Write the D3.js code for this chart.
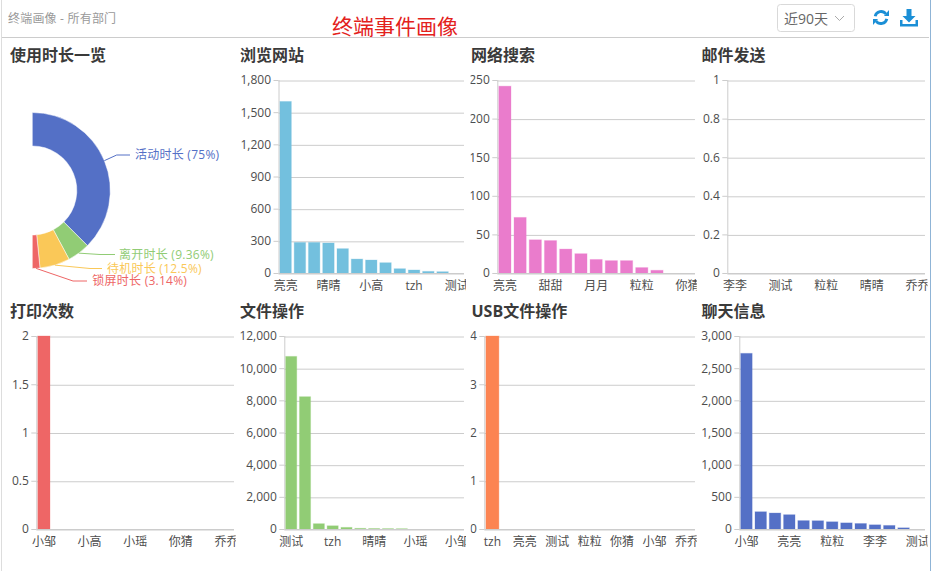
<!DOCTYPE html>
<html>
<head>
<meta charset="utf-8">
<style>
html,body{margin:0;padding:0;background:#fff;overflow:hidden}
svg{display:block}
text{font-family:"Open Sans","Noto Sans CJK SC",sans-serif}
</style>
<script src="https://cdn.jsdelivr.net/npm/d3@7/dist/d3.min.js"></script>
</head>
<body>
<svg id="c" width="932" height="571"></svg>
<script>
// ---- data ----
const pieNames  = ["活动时长","离开时长","待机时长","锁屏时长"];
const pieShares = [75,9.36,12.5,3.14];

const browseNames  = ["亮亮","小邹","甜甜","晴晴","月月","李李","小高","粒粒","小瑶","tzh","你猜","乔乔","测试"];
const browseValues = [1600,285,285,280,227,130,121,96,40,28,15,12,0];
const browseTicks  = [0,300,600,900,1200,1500,1800];

const searchNames  = ["亮亮","小邹","晴晴","甜甜","小高","李李","月月","测试","tzh","粒粒","小瑶","乔乔","你猜"];
const searchValues = [242,72,43,42,31,25,17.5,16,16,7,3.5,0,0];
const searchTicks  = [0,50,100,150,200,250];

const mailNames  = ["李李","亮亮","小邹","测试","甜甜","小高","粒粒","月月","tzh","晴晴","你猜","小瑶","乔乔"];
const mailValues = [0,0,0,0,0,0,0,0,0,0,0,0,0];
const mailTicks  = [0,0.2,0.4,0.6,0.8,1];

const printNames  = ["小邹","亮亮","测试","小高","晴晴","甜甜","小瑶","月月","tzh","你猜","粒粒","李李","乔乔"];
const printValues = [2,0,0,0,0,0,0,0,0,0,0,0,0];
const printTicks  = [0,0.5,1,1.5,2];

const fileNames  = ["测试","亮亮","甜甜","tzh","粒粒","李李","晴晴","月月","小高","小瑶","你猜","乔乔","小邹"];
const fileValues = [10730,8225,330,200,100,40,30,25,20,0,0,0,0];
const fileTicks  = [0,2000,4000,6000,8000,10000,12000];

const usbNames  = ["tzh","晴晴","亮亮","甜甜","测试","月月","粒粒","小高","你猜","李李","小邹","小瑶","乔乔"];
const usbValues = [4,0,0,0,0,0,0,0,0,0,0,0,0];
const usbTicks  = [0,1,2,3,4];

const chatNames  = ["小邹","晴晴","甜甜","亮亮","月月","小高","粒粒","小瑶","tzh","李李","你猜","乔乔","测试"];
const chatValues = [2730,268,248,222,130,128,112,95,85,65,55,18,0];
const chatTicks  = [0,500,1000,1500,2000,2500,3000];

const headerLeft = "终端画像 - 所有部门";
const headerMain = "终端事件画像";
const rangeLabel = "近90天";

// ---- page ----
const svg = d3.select("#c");
const defs = svg.append("defs");
const TEXT = "#4d4d4d";
const LINE = "#ccc";

svg.append("line").attr("x1",1.5).attr("x2",1.5).attr("y1",0).attr("y2",571).attr("stroke","#ddd");
svg.append("line").attr("x1",930.5).attr("x2",930.5).attr("y1",0).attr("y2",571).attr("stroke","#8fb4d6");
svg.append("line").attr("x1",2).attr("x2",929).attr("y1",37.5).attr("y2",37.5).attr("stroke","#ccc");

svg.append("text").attr("x",8).attr("y",23).attr("font-size",12).attr("fill","#999").attr("letter-spacing",0.2).text(headerLeft);
svg.append("text").attr("x",332).attr("y",34).attr("font-size",21).attr("fill","#e3211c").text(headerMain);

svg.append("rect").attr("x",777.5).attr("y",4.5).attr("width",77).attr("height",27).attr("rx",3)
  .attr("fill","#fff").attr("stroke","#d9d9d9");
svg.append("text").attr("x",784).attr("y",24).attr("font-size",14).attr("fill","#666").text(rangeLabel);
svg.append("path").attr("d","M835 16l4.5 4.5l4.5-4.5").attr("fill","none").attr("stroke","#aaa");

// refresh icon
const ICON = "#1b8fd6";
const arcR = d3.arc().innerRadius(4.6).outerRadius(7.4);
const refresh = svg.append("g").attr("transform","translate(881,17.5)");
refresh.append("path").attr("fill",ICON).attr("d",arcR({startAngle:-1.35,endAngle:0.95}));
refresh.append("path").attr("fill",ICON).attr("d",arcR({startAngle:1.8,endAngle:4.1}));
refresh.append("path").attr("fill",ICON).attr("d","M3 -1.5H8V-7.5Z");
refresh.append("path").attr("fill",ICON).attr("d","M-3 1.5H-8V7.5Z");
// download icon
const dl = svg.append("g").attr("transform","translate(909,18)").attr("fill",ICON);
dl.append("path").attr("d","M-2.5 -9H2.5V-2H6.5L0 4.5L-6.5 -2H-2.5Z");
dl.append("path").attr("d","M-9 2H-6.5V6H6.5V2H9V8.5H-9Z");

// ---- panel titles ----
[["使用时长一览",10,61],["浏览网站",240,61],["网络搜索",471,61],["邮件发送",701.5,61],
 ["打印次数",10,317],["文件操作",240,317],["USB文件操作",471.5,317],["聊天信息",701.5,317]]
 .forEach(t=>svg.append("text").attr("x",t[1]).attr("y",t[2]).attr("font-size",16)
   .attr("font-weight",700).attr("fill","#3a3a3a").text(t[0]));

// ---- donut ----
const pieColors = ["#5470c6","#91cc75","#fac858","#ee6666"];
const pieCx = 32.3, pieCy = 190.5, outerR = 78, innerR = 44.5;
const pieGen = d3.pie().sort(null).startAngle(0).endAngle(Math.PI);
const arcGen = d3.arc().innerRadius(innerR).outerRadius(outerR);
const pieG = svg.append("g").attr("transform",`translate(${pieCx},${pieCy})`);
const slices = pieGen(pieShares);
pieG.selectAll("path.s").data(slices).join("path").attr("class","s")
  .attr("d",arcGen).attr("fill",(d,i)=>pieColors[i]).attr("stroke","#fff").attr("stroke-width",0.5);

const labelLayout = [
  {elbow:116.7,end:130,text:135,y:155},
  {elbow:100,end:115,text:119,y:254.5},
  {elbow:90,end:102,text:107,y:268.5},
  {elbow:73,end:87,text:92.3,y:281}
];
slices.forEach((d,i)=>{
  const a=(d.startAngle+d.endAngle)/2, L=labelLayout[i];
  const sx=pieCx+outerR*Math.sin(a), sy=pieCy-outerR*Math.cos(a);
  const lg=d3.line();
  svg.append("path").attr("d",lg([[sx,sy],[L.elbow,L.y],[L.end,L.y]])).attr("fill","none")
     .attr("stroke",pieColors[i]).attr("stroke-width",1);
  svg.append("text").attr("x",L.text).attr("y",L.y+4.2).attr("font-size",12).attr("fill",pieColors[i])
     .attr("letter-spacing",0.25).text(`${pieNames[i]} (${pieShares[i]}%)`);
});

// ---- bar panels ----
function barPanel(o){
  const x=d3.scaleBand().domain(o.names.map((n,i)=>i)).range([o.x0,o.x1]).paddingInner(0.2).paddingOuter(0.1);
  const y=d3.scaleLinear().domain([0,d3.max(o.ticks)]).range([o.y0,o.y1]);
  const id="clip"+o.id;
  defs.append("clipPath").attr("id",id).append("rect")
    .attr("x",o.clip[0]).attr("y",o.y1-12).attr("width",o.clip[1]-o.clip[0]).attr("height",o.y0-o.y1+36);
  const g=svg.append("g").attr("clip-path",`url(#${id})`);

  // y axis with grid
  const ya=g.append("g").attr("transform",`translate(${o.x0},0)`)
    .call(d3.axisLeft(y).tickValues(o.ticks).tickFormat(d3.format(",")).tickSize(5).tickPadding(2.5));
  ya.selectAll("path").attr("stroke",LINE).attr("d",`M0.5,${o.y1}V${o.y0}`);
  ya.selectAll("line").attr("stroke",LINE);
  ya.selectAll("text").attr("font-size",12).attr("fill",TEXT).attr("font-family",null);
  ya.selectAll(".tick").append("line").attr("x1",0).attr("x2",o.x1-o.x0).attr("y1",0.5).attr("y2",0.5).attr("stroke",LINE);

  // bars
  g.selectAll("rect.b").data(o.values).join("rect").attr("class","b")
    .attr("x",(d,i)=>x(i)).attr("width",x.bandwidth())
    .attr("y",d=>y(d)).attr("height",d=>y(0)-y(d))
    .attr("fill",o.color)
    .attr("stroke",d=>d>0?o.color:"none").attr("stroke-opacity",0.3).attr("stroke-width",1);

  // x axis
  const xa=g.append("g").attr("transform",`translate(0,${o.y0})`)
    .call(d3.axisBottom(x).tickValues(x.domain().filter(i=>i%o.every===0))
      .tickFormat(i=>o.names[i]).tickSize(0).tickPadding(8));
  xa.selectAll("path").attr("stroke",LINE).attr("d",`M${o.x0},0.5H${o.x1}`);
  xa.selectAll("text").attr("font-size",12).attr("fill",TEXT).attr("font-family",null);
}
const row1=[273,80], row2=[529,336];
barPanel({id:1,x0:278.5,x1:464,y0:row1[0],y1:row1[1],clip:[240,466],names:browseNames,values:browseValues,ticks:browseTicks,color:"#73c0de",every:3});
barPanel({id:2,x0:497.3,x1:695,y0:row1[0],y1:row1[1],clip:[470.5,696.7],names:searchNames,values:searchValues,ticks:searchTicks,color:"#ea7ccc",every:3});
barPanel({id:3,x0:727.3,x1:925,y0:row1[0],y1:row1[1],clip:[701,927.5],names:mailNames,values:mailValues,ticks:mailTicks,color:"#5470c6",every:3});
barPanel({id:4,x0:36.3,x1:234,y0:row2[0],y1:row2[1],clip:[10,235.7],names:printNames,values:printValues,ticks:printTicks,color:"#ee6666",every:3});
barPanel({id:5,x0:284.3,x1:464,y0:row2[0],y1:row2[1],clip:[240,466],names:fileNames,values:fileValues,ticks:fileTicks,color:"#91cc75",every:3});
barPanel({id:6,x0:484.3,x1:695,y0:row2[0],y1:row2[1],clip:[470.5,696.7],names:usbNames,values:usbValues,ticks:usbTicks,color:"#fc8452",every:2});
barPanel({id:7,x0:739.3,x1:925,y0:row2[0],y1:row2[1],clip:[701,927.5],names:chatNames,values:chatValues,ticks:chatTicks,color:"#5470c6",every:3});
</script>
</body>
</html>
